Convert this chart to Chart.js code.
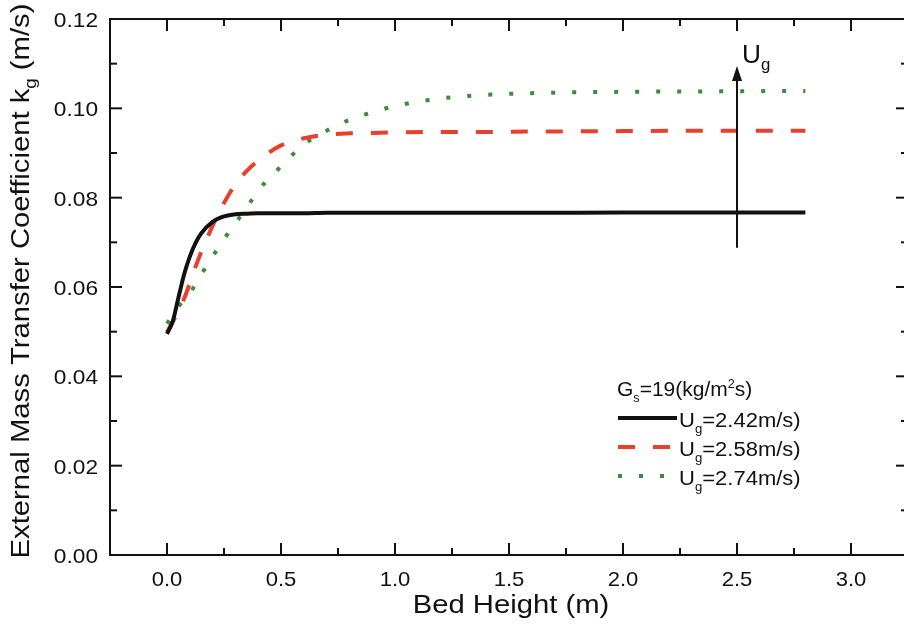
<!DOCTYPE html>
<html>
<head>
<meta charset="utf-8">
<script src="https://cdn.jsdelivr.net/npm/chart.js@4.4.1/dist/chart.umd.min.js"></script>
<style>
  html, body { margin: 0; padding: 0; background: #fff; overflow: hidden; }
  #wrap { width: 904px; height: 641px; overflow: hidden; }
</style>
</head>
<body>
<div id="wrap"><canvas id="kgChart" width="914" height="641"></canvas></div>
<script>
// bed height (m) sampled along the curves
const bedHeight = [0, 0.025, 0.05, 0.075, 0.1, 0.125, 0.15, 0.2, 0.25, 0.3, 0.35, 0.4,
                   0.5, 0.6, 0.7, 0.8, 0.9, 1.0, 1.2, 1.4, 1.6, 2.0, 2.4, 2.8];
// external mass transfer coefficient kg (m/s)
const kgUg242 = [0.0495, 0.0523, 0.0576, 0.0628, 0.0668, 0.0698, 0.0720, 0.0746, 0.0758, 0.0763, 0.0764, 0.0765,
                 0.0765, 0.0765, 0.0766, 0.0766, 0.0766, 0.0766, 0.0766, 0.0766, 0.0766, 0.0767, 0.0767, 0.0767];
const kgUg258 = [0.0499, 0.0522, 0.0545, 0.0574, 0.0608, 0.0645, 0.0678, 0.0737, 0.0788, 0.0830, 0.0860, 0.0883,
                 0.0917, 0.0933, 0.0941, 0.0944, 0.0945, 0.0946, 0.0947, 0.0947, 0.0948, 0.0949, 0.0950, 0.0950];
const kgUg274 = [0.0518, 0.0537, 0.0556, 0.0571, 0.0585, 0.0607, 0.0628, 0.0668, 0.0707, 0.0743, 0.0778, 0.0816,
                 0.0870, 0.0919, 0.0950, 0.0974, 0.0991, 0.1005, 0.1022, 0.1030, 0.1034, 0.1037, 0.1038, 0.1039];
const seriesNames = ['2.42m/s)', '2.58m/s)', '2.74m/s)'];

const xMajorTicks = [0, 0.5, 1.0, 1.5, 2.0, 2.5, 3.0];
const xMinorTicks = [0.25, 0.75, 1.25, 1.75, 2.25, 2.75];
const xTickLabels = ['0.0', '0.5', '1.0', '1.5', '2.0', '2.5', '3.0'];
const yMajorTicks = [0, 0.02, 0.04, 0.06, 0.08, 0.10, 0.12];
const yMinorTicks = [0.01, 0.03, 0.05, 0.07, 0.09, 0.11];
const yTickLabels = ['0.00', '0.02', '0.04', '0.06', '0.08', '0.10', '0.12'];

// arrow showing increasing Ug
const arrowX = 2.5;
const arrowFrom = 0.0688;
const arrowTo = 0.1095;

const FONT = "'Liberation Sans', Arial, Helvetica, sans-serif";

function pts(vals) {
    return bedHeight.map((h, i) => ({ x: h, y: vals[i] }));
}

// draw text with sub/superscript parts; sx stretches horizontally
function richWidth(ctx, parts, size) {
    let w = 0;
    parts.forEach(p => {
        ctx.font = ((p.sub || p.sup) ? Math.round(size * 0.62) : size) + 'px ' + FONT;
        w += ctx.measureText(p.t).width;
    });
    return w;
}
function drawRich(ctx, parts, x, y, size, opts) {
    opts = opts || {};
    const sx = opts.sx || 1;
    ctx.save();
    ctx.translate(x, y);
    if (opts.rotate) ctx.rotate(opts.rotate);
    ctx.scale(sx, 1);
    ctx.textBaseline = 'alphabetic';
    ctx.textAlign = 'left';
    let cx = 0;
    if (opts.center) cx = -richWidth(ctx, parts, size) / 2;
    parts.forEach(p => {
        const s = (p.sub || p.sup) ? Math.round(size * 0.62) : size;
        ctx.font = s + 'px ' + FONT;
        const dy = p.sub ? size * 0.28 : (p.sup ? -size * 0.42 : 0);
        ctx.fillText(p.t, cx, dy);
        cx += ctx.measureText(p.t).width;
    });
    ctx.restore();
}

const decor = {
    id: 'decor',
    afterDatasetsDraw(chart) {
        const { ctx, chartArea: a, scales: { x, y } } = chart;
        ctx.save();
        ctx.strokeStyle = '#111';
        ctx.fillStyle = '#111';
        ctx.lineWidth = 2;
        ctx.lineCap = 'butt';
        ctx.strokeRect(a.left, a.top, a.right - a.left, a.bottom - a.top);

        const seg = (x1, y1, x2, y2) => { ctx.beginPath(); ctx.moveTo(x1, y1); ctx.lineTo(x2, y2); ctx.stroke(); };
        // inward ticks on all four sides
        xMajorTicks.forEach(v => { const p = x.getPixelForValue(v); seg(p, a.bottom, p, a.bottom - 12); seg(p, a.top, p, a.top + 12); });
        xMinorTicks.forEach(v => { const p = x.getPixelForValue(v); seg(p, a.bottom, p, a.bottom - 7); seg(p, a.top, p, a.top + 7); });
        yMajorTicks.forEach(v => { const p = y.getPixelForValue(v); seg(a.left, p, a.left + 12, p); seg(a.right, p, a.right - 12, p); });
        yMinorTicks.forEach(v => { const p = y.getPixelForValue(v); seg(a.left, p, a.left + 7, p); seg(a.right, p, a.right - 7, p); });

        // tick labels
        xMajorTicks.forEach((v, i) =>
            drawRich(ctx, [{ t: xTickLabels[i] }], x.getPixelForValue(v), a.bottom + 31, 21, { center: true, sx: 1.05 }));
        yMajorTicks.forEach((v, i) => {
            ctx.font = '21px ' + FONT;
            const w = ctx.measureText(yTickLabels[i]).width * 1.08;
            drawRich(ctx, [{ t: yTickLabels[i] }], a.left - 12 - w, y.getPixelForValue(v) + 8, 21, { sx: 1.08 });
        });

        // axis titles
        drawRich(ctx, [{ t: 'Bed Height (m)' }], 511, 613, 25, { center: true, sx: 1.17 });
        drawRich(ctx, [{ t: 'External Mass Transfer Coefficient k' }, { t: 'g', sub: true }, { t: ' (m/s)' }],
                 29, 281, 25, { center: true, sx: 1.17, rotate: -Math.PI / 2 });

        // Ug arrow
        const ax = x.getPixelForValue(arrowX);
        const y0 = y.getPixelForValue(arrowFrom);
        const y1 = y.getPixelForValue(arrowTo);
        seg(ax, y0, ax, y1 + 12);
        ctx.beginPath();
        ctx.moveTo(ax, y1);
        ctx.lineTo(ax - 5, y1 + 15);
        ctx.lineTo(ax + 5, y1 + 15);
        ctx.closePath();
        ctx.fill();
        drawRich(ctx, [{ t: 'U' }, { t: 'g', sub: true }], ax + 5, 63, 25, { sx: 1.05 });

        // legend
        drawRich(ctx, [{ t: 'G' }, { t: 's', sub: true }, { t: '=19(kg/m' }, { t: '2', sup: true }, { t: 's)' }], 617, 396, 20, { sx: 1.05 });
        const rows = [418, 447, 476];
        chart.data.datasets.forEach((ds, i) => {
            const ry = rows[i];
            ctx.save();
            ctx.strokeStyle = ds.borderColor;
            ctx.lineWidth = ds.borderWidth;
            ctx.setLineDash(ds.borderDash || []);
            seg(618, ry, 677, ry);
            ctx.restore();
            drawRich(ctx, [{ t: 'U' }, { t: 'g', sub: true }, { t: '=' + seriesNames[i] }], 679, ry + 9, 20, { sx: 1.1 });
        });
        ctx.restore();
    }
};

new Chart(document.getElementById('kgChart'), {
    type: 'line',
    data: {
        datasets: [
            { label: 'Ug=2.42m/s', data: pts(kgUg242), borderColor: '#111111', borderWidth: 4,
              borderDash: [], cubicInterpolationMode: 'monotone', pointRadius: 0 },
            { label: 'Ug=2.58m/s', data: pts(kgUg258), borderColor: '#e8402c', borderWidth: 4,
              borderDash: [17, 18], cubicInterpolationMode: 'monotone', pointRadius: 0 },
            { label: 'Ug=2.74m/s', data: pts(kgUg274), borderColor: '#3b8c3b', borderWidth: 4,
              borderDash: [4, 17], cubicInterpolationMode: 'monotone', pointRadius: 0 }
        ]
    },
    options: {
        responsive: false,
        animation: false,
        devicePixelRatio: 1,
        layout: { padding: { left: 110, top: 19, right: 6, bottom: 86 } },
        plugins: { legend: { display: false }, tooltip: { enabled: false } },
        scales: {
            x: { type: 'linear', min: -0.25, max: 3.25, display: false },
            y: { type: 'linear', min: 0, max: 0.12, display: false }
        }
    },
    plugins: [decor]
});
</script>
</body>
</html>
